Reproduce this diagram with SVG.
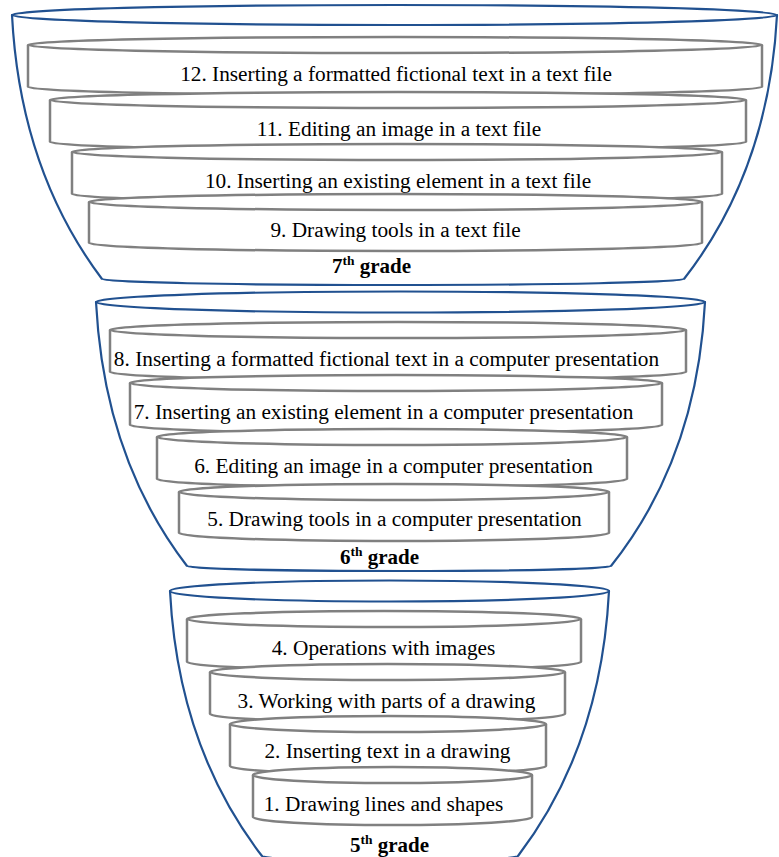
<svg xmlns="http://www.w3.org/2000/svg" width="779" height="857" viewBox="0 0 779 857">
<style>
.bowl{fill:#ffffff;stroke:#215190;stroke-width:2.2;stroke-linejoin:round}
.cyl{fill:#ffffff;stroke:#808080;stroke-width:2.5;stroke-linejoin:round}
.lbl{font-family:"Liberation Serif","Times New Roman",serif;font-size:21.3px;fill:#000;text-anchor:middle}
.grade{font-family:"Liberation Serif","Times New Roman",serif;font-size:21px;font-weight:bold;fill:#000}
</style>
<rect width="779" height="857" fill="#ffffff"/>
<g id="connectors"></g>
<g id="grade7">
<path class="bowl" d="M12,15 Q20,170 102,279 A291,6 0 0 0 684,279 Q769,170 777,15 Z"/>
<ellipse class="bowl" cx="394.5" cy="15" rx="382.5" ry="10"/>
<text class="grade" x="332" y="273">7<tspan dy="-8" font-size="13.5">th</tspan><tspan dy="8"> grade</tspan></text>
</g>
<g id="grade6">
<path class="bowl" d="M96,302 Q104,458 187,566 A212,5 0 0 0 611,566 Q697,458 705,302 Z"/>
<ellipse class="bowl" cx="400.5" cy="302" rx="304.5" ry="10.5"/>
<text class="grade" x="340" y="564">6<tspan dy="-8" font-size="13.5">th</tspan><tspan dy="8"> grade</tspan></text>
</g>
<g id="grade5">
<path class="bowl" d="M170,591 Q178,747 262,856 A128,5 0 0 0 518,856 Q601,747 609,591 Z"/>
<ellipse class="bowl" cx="389.5" cy="591" rx="219.5" ry="10.5"/>
<text class="grade" x="350" y="852">5<tspan dy="-8" font-size="13.5">th</tspan><tspan dy="8"> grade</tspan></text>
</g>
<g id="step12">
<path class="cyl" d="M28,45 V87 A367,8 0 0 0 762,87 V45"/>
<ellipse class="cyl" cx="395" cy="45" rx="367" ry="8"/>
<text class="lbl" x="396" y="80.5">12. Inserting a formatted fictional text in a text file</text>
</g>
<g id="step11">
<path class="cyl" d="M50,100 V142 A348,8 0 0 0 746,142 V100"/>
<ellipse class="cyl" cx="398" cy="100" rx="348" ry="8"/>
<text class="lbl" x="399" y="135.5">11. Editing an image in a text file</text>
</g>
<g id="step10">
<path class="cyl" d="M72,152 V194 A325,8 0 0 0 722,194 V152"/>
<ellipse class="cyl" cx="397" cy="152" rx="325" ry="8"/>
<text class="lbl" x="398" y="187.5">10. Inserting an existing element in a text file</text>
</g>
<g id="step9">
<path class="cyl" d="M89,202 V243 A306.5,8 0 0 0 702,243 V202"/>
<ellipse class="cyl" cx="395.5" cy="202" rx="306.5" ry="8"/>
<text class="lbl" x="395.5" y="237">9. Drawing tools in a text file</text>
</g>
<g id="step8">
<path class="cyl" d="M110,330 V372 A288,8 0 0 0 686,372 V330"/>
<ellipse class="cyl" cx="398" cy="330" rx="288" ry="8"/>
<text class="lbl" x="386.5" y="366">8. Inserting a formatted fictional text in a computer presentation</text>
</g>
<g id="step7">
<path class="cyl" d="M130,383 V425 A266,8 0 0 0 662,425 V383"/>
<ellipse class="cyl" cx="396" cy="383" rx="266" ry="8"/>
<text class="lbl" x="383.5" y="419">7. Inserting an existing element in a computer presentation</text>
</g>
<g id="step6">
<path class="cyl" d="M157,437 V479 A235,8 0 0 0 627,479 V437"/>
<ellipse class="cyl" cx="392" cy="437" rx="235" ry="8"/>
<text class="lbl" x="393.5" y="472.5">6. Editing an image in a computer presentation</text>
</g>
<g id="step5">
<path class="cyl" d="M179,492 V533 A215,8 0 0 0 609,533 V492"/>
<ellipse class="cyl" cx="394" cy="492" rx="215" ry="8"/>
<text class="lbl" x="394.5" y="526">5. Drawing tools in a computer presentation</text>
</g>
<g id="step4">
<path class="cyl" d="M187,619 V662 A197,8 0 0 0 581,662 V619"/>
<ellipse class="cyl" cx="384" cy="619" rx="197" ry="8"/>
<text class="lbl" x="383.5" y="655">4. Operations with images</text>
</g>
<g id="step3">
<path class="cyl" d="M210,672 V714 A177.5,8 0 0 0 565,714 V672"/>
<ellipse class="cyl" cx="387.5" cy="672" rx="177.5" ry="8"/>
<text class="lbl" x="386.5" y="708">3. Working with parts of a drawing</text>
</g>
<g id="step2">
<path class="cyl" d="M230,724 V766 A158,8 0 0 0 546,766 V724"/>
<ellipse class="cyl" cx="388" cy="724" rx="158" ry="8"/>
<text class="lbl" x="387.5" y="758">2. Inserting text in a drawing</text>
</g>
<g id="step1">
<path class="cyl" d="M253,775 V817 A139.5,8 0 0 0 532,817 V775"/>
<ellipse class="cyl" cx="392.5" cy="775" rx="139.5" ry="8"/>
<text class="lbl" x="383.5" y="811">1. Drawing lines and shapes</text>
</g>
</svg>
